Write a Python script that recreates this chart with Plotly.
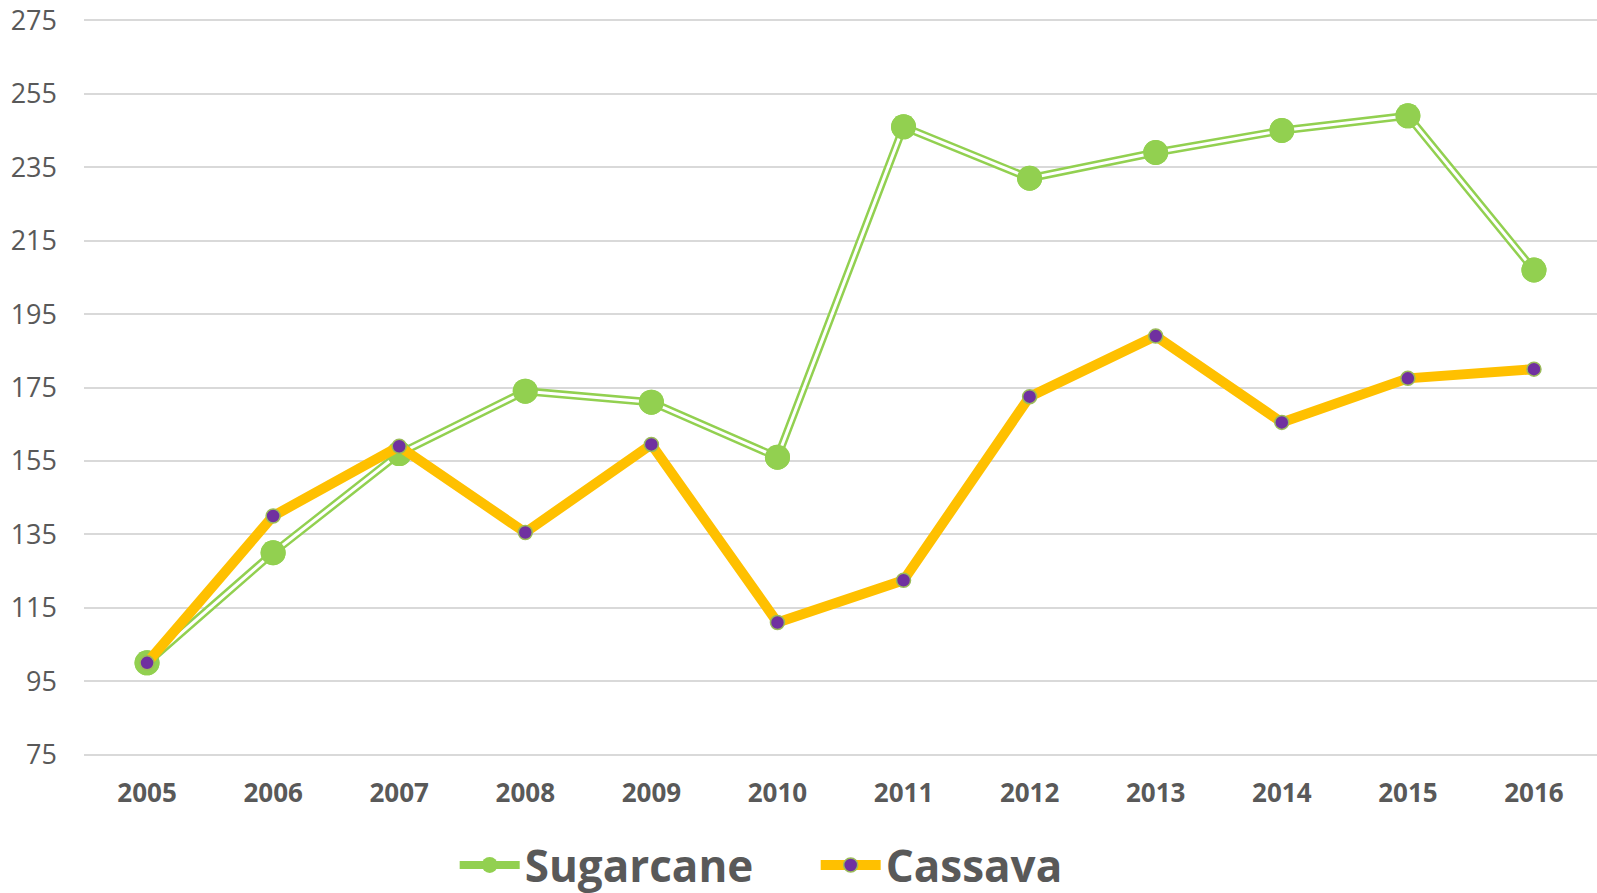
import plotly.graph_objects as go

# ── data ──────────────────────────────────────────────────────────────────────
years = ["2005", "2006", "2007", "2008", "2009", "2010",
         "2011", "2012", "2013", "2014", "2015", "2016"]
sugarcane = [100, 130, 157, 174, 171, 156, 246, 232, 239, 245, 249, 207]
cassava = [100, 140, 159, 135.5, 159.5, 111, 122.5, 172.5, 189, 165.5, 177.5, 180]
y_ticks = [75, 95, 115, 135, 155, 175, 195, 215, 235, 255, 275]

# ── palette ───────────────────────────────────────────────────────────────────
GREEN = "#92D050"
YELLOW = "#FFC000"
PURPLE = "#7030A0"
TEXT = "#595959"
GRID = "#D9D9D9"
FONT = "Open Sans"

fig = go.Figure()

# Sugarcane: double (compound) line = green wide line + white core
fig.add_trace(go.Scatter(
    x=years, y=sugarcane, mode="lines+markers", name="Sugarcane",
    line=dict(color=GREEN, width=8),
    marker=dict(size=25, color=GREEN, line=dict(width=0)),
))
fig.add_trace(go.Scatter(
    x=years, y=sugarcane, mode="lines", showlegend=False,
    line=dict(color="white", width=3),
))
fig.add_trace(go.Scatter(
    x=years, y=sugarcane, mode="markers", showlegend=False,
    marker=dict(size=25, color=GREEN, line=dict(width=0)),
))

# Cassava
fig.add_trace(go.Scatter(
    x=years, y=cassava, mode="lines+markers", name="Cassava",
    line=dict(color=YELLOW, width=10),
    marker=dict(size=14, color=PURPLE, line=dict(color="#9BBB59", width=1.5)),
))

fig.update_layout(
    width=1597, height=893,
    paper_bgcolor="white", plot_bgcolor="white",
    font=dict(family=FONT, color=TEXT),
    margin=dict(l=84, r=0, t=13, b=131, autoexpand=False),
    showlegend=True,
    legend=dict(
        orientation="h", x=0.245, xanchor="left", y=-0.138, yanchor="middle",
        font=dict(size=44, color=TEXT, family=FONT, weight="bold"),
        itemwidth=60, traceorder="normal",
        entrywidth=286, entrywidthmode="pixels",
    ),
    hovermode=False,
)
fig.update_xaxes(
    type="category", range=[-0.5, 11.5], automargin=False,
    showgrid=False, showline=False, zeroline=False,
    tickfont=dict(size=26, color=TEXT, weight="bold"),
    ticklabelstandoff=13,
)
fig.update_yaxes(
    range=[73, 277], tickvals=y_ticks, automargin=False,
    showgrid=True, gridcolor=GRID, gridwidth=1.5,
    zeroline=False, showline=False,
    tickfont=dict(size=27, color=TEXT),
    ticklabelstandoff=26,
)

# drop the browser's default body margin so the figure sits at the page corner
fig.write_html("out.html", config={"displayModeBar": False},
               post_script="document.body.style.margin='0';")
